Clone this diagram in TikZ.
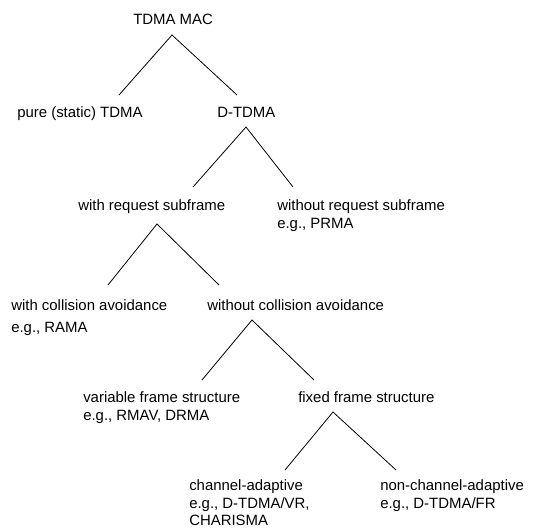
\documentclass[tikz,border=0pt]{standalone}
\usepackage{fontspec}
\setmainfont{Liberation Sans}
\usetikzlibrary{calc}
\tikzset{class/.style={anchor=north west,inner sep=0pt,align=left,font=\fontsize{11.2}{13.2}\selectfont},
         branch/.style={line width=0.6pt},
        }

\begin{document}
\begin{tikzpicture}[x=0.75pt,y=-0.75pt]
        \useasboundingbox(0,0)rectangle(554,530);
        \node[class](mac)at(133,13.5){TDMA MAC};
        \node[class](pure)at(17,106.5){pure (static) TDMA};
        \node[class](dtdma)at(217,106.5){D-TDMA};
        \node[class](withreq)at(78,199.5){with request subframe};
        \node[class](withoutreq)at(277,199.5){without request subframe\\e.g., PRMA};
        \node[class](withca)at(11,299.5){with collision avoidance\\[3pt]e.g., RAMA};
        \node[class](withoutca)at(207,299.5){without collision avoidance};
        \node[class](varframe)at(83,391.5){variable frame structure\\e.g., RMAV, DRMA};
        \node[class](fixframe)at(298,391.5){fixed frame structure};
        \node[class](chanad)at(189,479.5){channel-adaptive\\e.g., D-TDMA/VR,\\CHARISMA};
        \node[class](nonchanad)at(380,479.5){non-channel-adaptive\\e.g., D-TDMA/FR};

        \draw[branch]($(pure.north west)+(102,-11.5)$)--($(mac.north west)+(39,21.5)$)--($(dtdma.north west)+(20,-11.5)$);
        \draw[branch]($(withreq.north west)+(115,-12.5)$)--($(dtdma.north west)+(29,20.5)$)--($(withoutreq.north west)+(16,-12.5)$);
        \draw[branch]($(withca.north west)+(97,-14.5)$)--($(withreq.north west)+(79,24.5)$)--($(withoutca.north west)+(12,-14.5)$);
        \draw[branch]($(varframe.north west)+(119,-11.5)$)--($(withoutca.north west)+(45,20.5)$)--($(fixframe.north west)+(16,-11.5)$);
        \draw[branch]($(chanad.north west)+(96,-9.5)$)--($(fixframe.north west)+(35,20.5)$)--($(nonchanad.north west)+(16,-9.5)$);
    \end{tikzpicture}
\end{document}
